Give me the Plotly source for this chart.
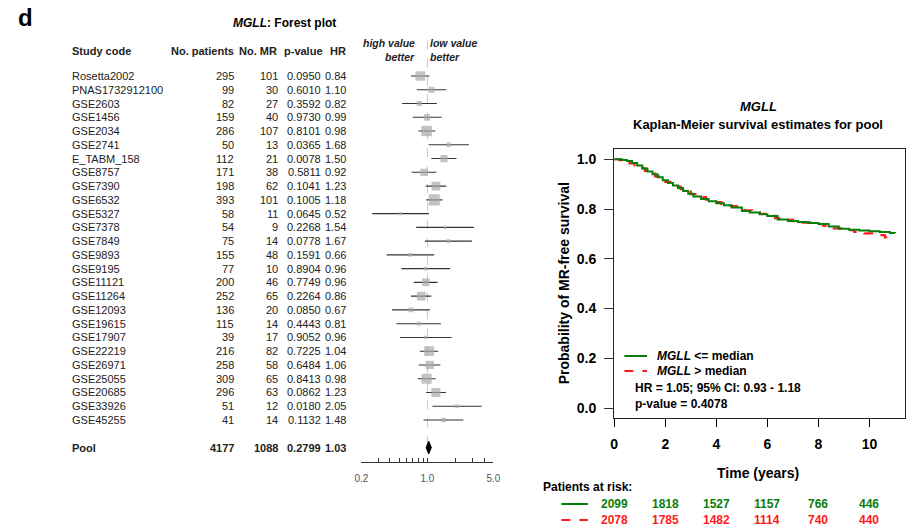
import math
import plotly.graph_objects as go

# ---------------- Forest plot data ----------------
studies = ["Rosetta2002", "PNAS1732912100", "GSE2603", "GSE1456", "GSE2034", "GSE2741",
           "E_TABM_158", "GSE8757", "GSE7390", "GSE6532", "GSE5327", "GSE7378", "GSE7849",
           "GSE9893", "GSE9195", "GSE11121", "GSE11264", "GSE12093", "GSE19615", "GSE17907",
           "GSE22219", "GSE26971", "GSE25055", "GSE20685", "GSE33926", "GSE45255"]
n_patients = [295, 99, 82, 159, 286, 50, 112, 171, 198, 393, 58, 54, 75, 155, 77, 200, 252,
              136, 115, 39, 216, 258, 309, 296, 51, 41]
n_mr = [101, 30, 27, 40, 107, 13, 21, 38, 62, 101, 11, 9, 14, 48, 10, 46, 65, 20, 14, 17,
        82, 58, 65, 63, 12, 14]
p_values = ["0.0950", "0.6010", "0.3592", "0.9730", "0.8101", "0.0365", "0.0078", "0.5811",
            "0.1041", "0.1005", "0.0645", "0.2268", "0.0778", "0.1591", "0.8904", "0.7749",
            "0.2264", "0.0850", "0.4443", "0.9052", "0.7225", "0.6484", "0.8413", "0.0862",
            "0.0180", "0.1132"]
hr = [0.84, 1.10, 0.82, 0.99, 0.98, 1.68, 1.50, 0.92, 1.23, 1.18, 0.52, 1.54, 1.67, 0.66,
      0.96, 0.96, 0.86, 0.67, 0.81, 0.96, 1.04, 1.06, 0.98, 1.23, 2.05, 1.48]
ci_low = [0.67, 0.77, 0.54, 0.70, 0.80, 1.03, 1.10, 0.68, 0.96, 0.97, 0.26, 0.76, 0.94, 0.37,
          0.53, 0.72, 0.67, 0.42, 0.47, 0.51, 0.83, 0.81, 0.79, 0.97, 1.13, 0.91]
ci_high = [1.05, 1.59, 1.26, 1.41, 1.21, 2.75, 2.03, 1.24, 1.58, 1.44, 1.04, 3.10, 2.96, 1.18,
           1.74, 1.28, 1.10, 1.06, 1.39, 1.80, 1.30, 1.37, 1.22, 1.57, 3.75, 2.40]

pool_patients, pool_mr, pool_p = 4177, 1088, "0.2799"
pool_hr, pool_low, pool_high = 1.03, 0.97, 1.10

forest_ticks = [0.2, 0.3, 0.4, 0.5, 0.6, 0.7, 0.8, 0.9, 1.0, 2.0, 3.0, 4.0, 5.0]
forest_labels = ["0.2", "", "", "", "", "", "", "", "1.0", "", "", "", "5.0"]

# ---------------- Kaplan-Meier data ----------------
t_low = [0, 0.3, 0.5, 0.7, 0.9, 1.1, 1.3, 1.5, 1.7, 1.9, 2.1, 2.3, 2.5, 2.7, 2.9, 3.1, 3.4,
         3.7, 4.0, 4.3, 4.6, 5.0, 5.3, 5.7, 6.0, 6.4, 6.8, 7.2, 7.6, 8.0, 8.4, 8.8, 9.2, 9.6,
         10.0, 10.4, 10.8, 11.0]
s_low = [1.0, 0.997, 0.993, 0.985, 0.975, 0.963, 0.951, 0.940, 0.928, 0.916, 0.905, 0.894,
         0.884, 0.872, 0.861, 0.850, 0.840, 0.831, 0.823, 0.815, 0.806, 0.792, 0.786, 0.779,
         0.772, 0.758, 0.752, 0.748, 0.744, 0.740, 0.730, 0.721, 0.717, 0.714, 0.711, 0.708,
         0.704, 0.703]
t_high = [0, 0.2, 0.4, 0.6, 0.8, 1.0, 1.2, 1.4, 1.6, 1.8, 2.0, 2.2, 2.4, 2.6, 2.8, 3.0, 3.3,
          3.6, 3.9, 4.2, 4.5, 4.8, 5.1, 5.4, 5.7, 6.0, 6.3, 6.7, 7.0, 7.4, 7.8, 8.2, 8.6, 9.0,
          9.4, 9.8, 10.2, 10.6, 10.85]
s_high = [1.0, 0.996, 0.990, 0.983, 0.974, 0.964, 0.953, 0.942, 0.931, 0.920, 0.909, 0.899,
          0.890, 0.880, 0.870, 0.860, 0.848, 0.838, 0.828, 0.820, 0.812, 0.804, 0.795, 0.788,
          0.780, 0.772, 0.763, 0.756, 0.751, 0.745, 0.739, 0.732, 0.722, 0.715, 0.708, 0.702,
          0.695, 0.686, 0.678]

risk_times = [0, 2, 4, 6, 8, 10]
risk_low = [2099, 1818, 1527, 1157, 766, 446]
risk_high = [2078, 1785, 1482, 1114, 740, 440]

GREEN = "#0b7d0b"
RED = "#ff1a1a"
FONT = "Liberation Sans, Arial, sans-serif"
W, H = 913, 526


def px(x):
    return x / W


def py(y):
    return 1 - y / H


fig = go.Figure()

# ---- forest: confidence intervals ----
rows = list(range(len(studies)))
POOL_ROW = 27
wx, wy = [], []
for i, lo, hi in zip(rows, ci_low, ci_high):
    wx += [lo, hi, None]
    wy += [i, i, None]
fig.add_trace(go.Scatter(x=wx, y=wy, mode="lines", line=dict(color="#333333", width=1.1),
                         xaxis="x", yaxis="y", hoverinfo="skip"))

# box size grows with precision (narrower interval -> larger box)
box_sizes = []
for lo, hi in zip(ci_low, ci_high):
    width = math.log10(hi) - math.log10(lo)
    box_sizes.append(max(3.0, min(11.5, 1.9 / width)))
fig.add_trace(go.Scatter(x=hr, y=rows, mode="markers",
                         marker=dict(symbol="square", size=box_sizes, color="#a9a9a9",
                                     line=dict(width=0)),
                         xaxis="x", yaxis="y", hoverinfo="skip"))

# pooled estimate diamond
dh = 0.47
fig.add_trace(go.Scatter(x=[pool_low, pool_hr, pool_high, pool_hr, pool_low],
                         y=[POOL_ROW, POOL_ROW - dh, POOL_ROW, POOL_ROW + dh, POOL_ROW],
                         mode="lines", fill="toself", fillcolor="black",
                         line=dict(color="black", width=1), xaxis="x", yaxis="y",
                         hoverinfo="skip"))

# ---- Kaplan-Meier curves ----
fig.add_trace(go.Scatter(x=t_high, y=s_high, mode="lines", line_shape="hv",
                         line=dict(color=RED, width=2.2, dash="dash"),
                         xaxis="x2", yaxis="y2", hoverinfo="skip"))
fig.add_trace(go.Scatter(x=t_low, y=s_low, mode="lines", line_shape="hv",
                         line=dict(color=GREEN, width=2),
                         xaxis="x2", yaxis="y2", hoverinfo="skip"))

ann = []
shapes = []


def text(x, y, s, size=11, bold=False, anchor="left", color="#222", xref="paper",
         yref="paper", angle=0, italic=False):
    ann.append(dict(x=x, y=y, xref=xref, yref=yref, text=s, showarrow=False,
                    xanchor=anchor, yanchor="middle", textangle=angle,
                    borderpad=0, borderwidth=0,
                    font=dict(family=FONT, size=size, color=color,
                              weight="bold" if bold else "normal",
                              style="italic" if italic else "normal")))


# panel letter and forest title
text(px(11), py(18), "d", size=24, bold=True, color="black")
text(px(282), py(23), "<i>MGLL</i>: Forest plot", size=12, bold=True, anchor="center",
     color="black")

# column headers
HEAD_Y = py(51)
COL_N, COL_MR, COL_P, COL_HR = 231, 275.5, 319, 344.5
text(px(66.5), HEAD_Y, "Study code", bold=True)
text(px(COL_N - 0.5), HEAD_Y, "No. patients", bold=True, anchor="right")
text(px(COL_MR - 1.5), HEAD_Y, "No. MR", bold=True, anchor="right")
text(px(COL_P + 1.5), HEAD_Y, "p-value", bold=True, anchor="right")
text(px(COL_HR - 0.5), HEAD_Y, "HR", bold=True, anchor="right")
text(px(414), py(43), "high value", size=10.5, bold=True, italic=True, anchor="right")
text(px(414), py(57), "better", size=10.5, bold=True, italic=True, anchor="right")
text(px(429.5), py(43), "low value", size=10.5, bold=True, italic=True)
text(px(429.5), py(57), "better", size=10.5, bold=True, italic=True)

# table rows
for i, name in enumerate(studies):
    text(px(66.5), i, name, yref="y")
    text(px(COL_N), i, str(n_patients[i]), anchor="right", yref="y")
    text(px(COL_MR), i, str(n_mr[i]), anchor="right", yref="y")
    text(px(COL_P), i, p_values[i], anchor="right", yref="y")
    text(px(COL_HR), i, f"{hr[i]:.2f}", anchor="right", yref="y")
text(px(66.5), POOL_ROW, "Pool", bold=True, yref="y")
text(px(COL_N), POOL_ROW, str(pool_patients), bold=True, anchor="right", yref="y")
text(px(COL_MR), POOL_ROW, str(pool_mr), bold=True, anchor="right", yref="y")
text(px(COL_P), POOL_ROW, pool_p, bold=True, anchor="right", yref="y")
text(px(COL_HR), POOL_ROW, f"{pool_hr:.2f}", bold=True, anchor="right", yref="y")

# reference line at HR = 1
shapes.append(dict(type="line", xref="x", yref="y", x0=1, x1=1, y0=-2.6, y1=27.5,
                   line=dict(color="#c8c8c8", width=1, dash="dash"), layer="below"))

# ---- Kaplan-Meier annotations ----
text(px(763), py(106), "<i>MGLL</i>", size=13, bold=True, anchor="center", color="black")
text(px(763), py(125), "Kaplan-Meier survival estimates for pool", size=13, bold=True,
     anchor="center", color="black")
text(px(763), py(473), "Time (years)", size=14, bold=True, anchor="center", color="black")
text(px(566), py(283), "Probability of MR-free survival", size=14, bold=True,
     anchor="center", color="black", angle=-90)

# legend inside plot
shapes.append(dict(type="line", xref="paper", yref="paper", x0=px(627), x1=px(650),
                   y0=py(356), y1=py(356), line=dict(color=GREEN, width=2)))
shapes.append(dict(type="line", xref="paper", yref="paper", x0=px(627), x1=px(650),
                   y0=py(371), y1=py(371), line=dict(color=RED, width=2, dash="dash")))
text(px(660.5), py(356), "<i>MGLL</i> &lt;= median", size=12, bold=True, color="black")
text(px(660.5), py(371), "<i>MGLL</i> &gt; median", size=12, bold=True, color="black")
text(px(638), py(388), "HR = 1.05; 95% CI: 0.93 - 1.18", size=12, bold=True, color="black")
text(px(638), py(404), "p-value = 0.4078", size=12, bold=True, color="black")

# patients at risk table
text(px(544.5), py(487), "Patients at risk:", size=12, bold=True, color="black")
shapes.append(dict(type="line", xref="paper", yref="paper", x0=px(563), x1=px(590),
                   y0=py(504), y1=py(504), line=dict(color=GREEN, width=2)))
shapes.append(dict(type="line", xref="paper", yref="paper", x0=px(563), x1=px(590),
                   y0=py(520), y1=py(520), line=dict(color=RED, width=2, dash="dash")))
for t, a, b in zip(risk_times, risk_low, risk_high):
    text(t, py(504), str(a), size=12, bold=True, anchor="center", color=GREEN, xref="x2")
    text(t, py(520), str(b), size=12, bold=True, anchor="center", color=RED, xref="x2")

# forest row axis: row index -> vertical position (row 0 at 76px, 13.76px per row)
ROW_PX, ROW0 = 13.76, 76.0
y_range = [(H - ROW0) / ROW_PX, (0 - ROW0) / ROW_PX]

fig.update_layout(
    width=W, height=H, margin=dict(l=0, r=0, t=0, b=0),
    paper_bgcolor="white", plot_bgcolor="white", showlegend=False,
    font=dict(family=FONT),
    xaxis=dict(type="log", domain=[px(360), px(494)],
               range=[math.log10(0.2), math.log10(5.0)],
               anchor="free", position=py(462.3),
               tickmode="array", tickvals=forest_ticks, ticktext=forest_labels,
               ticks="inside", ticklen=4, tickcolor="#333", showline=True,
               linecolor="#333", linewidth=1, showgrid=False, zeroline=False,
               ticklabelstandoff=7,
               tickfont=dict(size=10, color="#555", family=FONT)),
    yaxis=dict(domain=[0, 1], range=y_range, visible=False, anchor="x"),
    xaxis2=dict(domain=[px(616.7), px(911.7)], range=[0, 11.38], anchor="y2",
                tickmode="array", tickvals=[0, 2, 4, 6, 8, 10], ticks="outside", ticklen=8,
                tickcolor="black", showline=True, mirror=True, linecolor="#222",
                linewidth=1.3, showgrid=False, zeroline=False, ticklabelstandoff=5,
                tickfont=dict(size=14, color="black", family=FONT, weight="bold")),
    yaxis2=dict(domain=[py(417.7), py(149.3)], range=[-0.039, 1.04], anchor="x2",
                tickmode="array", tickvals=[0, 0.2, 0.4, 0.6, 0.8, 1.0], tickformat=".1f",
                ticks="outside", ticklen=9, tickcolor="#333", showline=True, mirror=True,
                linecolor="#222", linewidth=1.3, showgrid=False, zeroline=False,
                ticklabelstandoff=5,
                tickfont=dict(size=14, color="black", family=FONT, weight="bold")),
    annotations=ann, shapes=shapes,
)

fig.write_html("out.html")
